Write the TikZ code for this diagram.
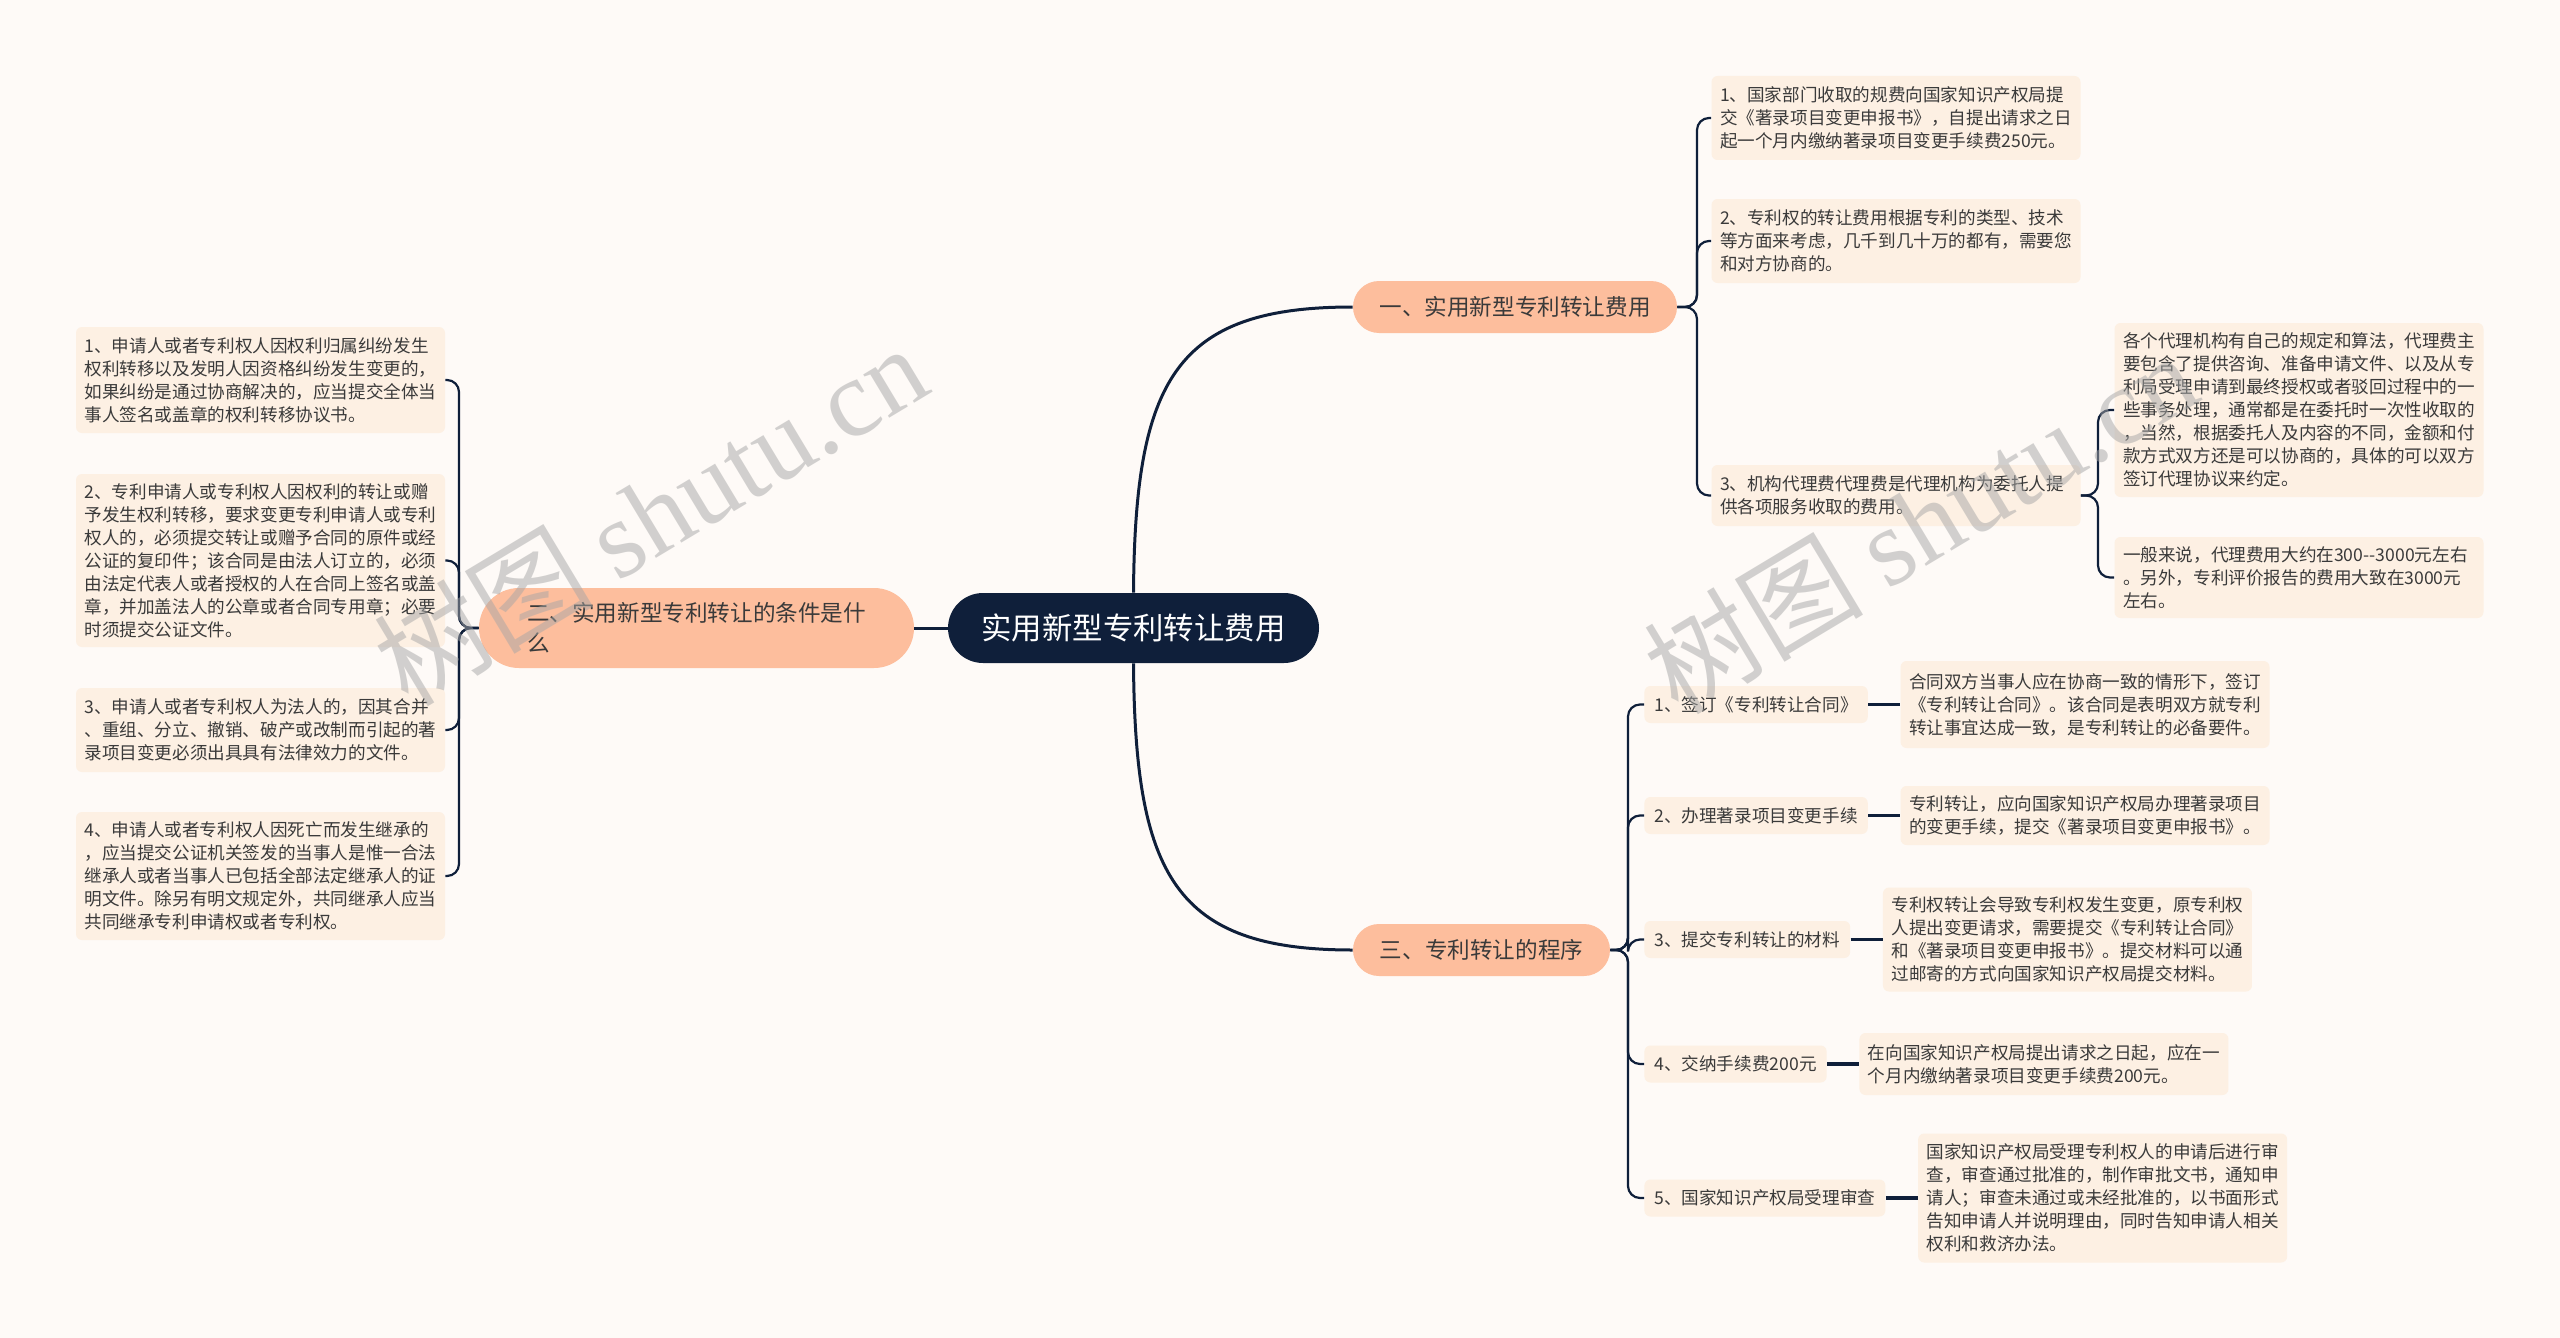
\documentclass[tikz,border=0pt]{standalone}
\usepackage{fontspec}
\usepackage{xcolor}
\usetikzlibrary{positioning}
\newfontfamily\cjk{Noto Sans CJK SC}
\newfontfamily\wmserif{Liberation Serif}
\definecolor{bgcol}{HTML}{FEFAF7}
\definecolor{leafcol}{HTML}{FDF0E3}
\definecolor{branchcol}{HTML}{FDBE9D}
\definecolor{navy}{HTML}{0F1F3A}
\definecolor{inkcol}{HTML}{3A3A3A}

\begin{document}
\begin{tikzpicture}[x=0.5pt,y=-0.5pt,
  root/.style={fill=navy,text=white,rounded corners=17.5pt,minimum width=185.5pt,minimum height=35pt,font=\cjk\fontsize{15.2}{18}\selectfont},
  branch/.style={fill=branchcol,text=inkcol,rounded corners=13pt,minimum height=26pt,font=\cjk\fontsize{11.3}{15}\selectfont},
  leaf/.style={fill=leafcol,text=inkcol,rounded corners=3pt,align=left,text width=176pt,inner xsep=4.25pt,font=\cjk\fontsize{8.8}{11.5}\selectfont},
  stepbox/.style={fill=leafcol,text=inkcol,rounded corners=3pt,inner xsep=5pt,minimum height=18.5pt,font=\cjk\fontsize{8.8}{11.5}\selectfont},
  trunk/.style={draw=navy,line width=1.5pt},
  twig/.style={draw=navy,line width=1.1pt,rounded corners=6pt},
  stub/.style={draw=navy,line width=1.8pt},
  wmark/.style={text=black!35,opacity=.5,font=\cjk\fontsize{55}{60}\selectfont}]

  \path[use as bounding box,fill=bgcol] (0,0) rectangle (2560,1338);

  % centre and branches
  \node[root] (c) at (1133.5,628) {实用新型专利转让费用};
  \node[branch,minimum width=162pt] (b1) at (1515,307) {一、实用新型专利转让费用};
  \node[branch,text width=169.5pt,align=left,minimum width=217.5pt,minimum height=40pt,rounded corners=20pt] (b2) at (696.5,628) {二、实用新型专利转让的条件是什\\么};
  \node[branch,minimum width=128.5pt] (b3) at (1481.5,950) {三、专利转让的程序};

  % left side
  \node[leaf,minimum height=53pt] (l1) at (260.5,380) {1、申请人或者专利权人因权利归属纠纷发生\\权利转移以及发明人因资格纠纷发生变更的，\\如果纠纷是通过协商解决的，应当提交全体当\\事人签名或盖章的权利转移协议书。};
  \node[leaf,minimum height=86.5pt] (l2) at (260.5,560.5) {2、专利申请人或专利权人因权利的转让或赠\\予发生权利转移，要求变更专利申请人或专利\\权人的，必须提交转让或赠予合同的原件或经\\公证的复印件；该合同是由法人订立的，必须\\由法定代表人或者授权的人在合同上签名或盖\\章，并加盖法人的公章或者合同专用章；必要\\时须提交公证文件。};
  \node[leaf,minimum height=42pt] (l3) at (260.5,730) {3、申请人或者专利权人为法人的，因其合并\\、重组、分立、撤销、破产或改制而引起的著\\录项目变更必须出具具有法律效力的文件。};
  \node[leaf,minimum height=64pt] (l4) at (260.5,876) {4、申请人或者专利权人因死亡而发生继承的\\，应当提交公证机关签发的当事人是惟一合法\\继承人或者当事人已包括全部法定继承人的证\\明文件。除另有明文规定外，共同继承人应当\\共同继承专利申请权或者专利权。};

  % fees
  \node[leaf,minimum height=42pt] (r1) at (1896,118) {1、国家部门收取的规费向国家知识产权局提\\交《著录项目变更申报书》，自提出请求之日\\起一个月内缴纳著录项目变更手续费250元。};
  \node[leaf,minimum height=42pt] (r2) at (1896,241) {2、专利权的转让费用根据专利的类型、技术\\等方面来考虑，几千到几十万的都有，需要您\\和对方协商的。};
  \node[leaf,minimum height=30.5pt] (r3) at (1896,495.5) {3、机构代理费代理费是代理机构为委托人提\\供各项服务收取的费用。};
  \node[leaf,minimum height=87pt] (r3a) at (2299,410) {各个代理机构有自己的规定和算法，代理费主\\要包含了提供咨询、准备申请文件、以及从专\\利局受理申请到最终授权或者驳回过程中的一\\些事务处理，通常都是在委托时一次性收取的\\，当然，根据委托人及内容的不同，金额和付\\款方式双方还是可以协商的，具体的可以双方\\签订代理协议来约定。};
  \node[leaf,minimum height=40.5pt] (r3b) at (2299,577.5) {一般来说，代理费用大约在300--3000元左右\\。另外，专利评价报告的费用大致在3000元\\左右。};

  % procedure
  \node[stepbox,anchor=west] (s1) at (1644,704.5) {1、签订《专利转让合同》};
  \node[leaf,minimum height=43.5pt,right=16pt of s1] (t1) {合同双方当事人应在协商一致的情形下，签订\\《专利转让合同》。该合同是表明双方就专利\\转让事宜达成一致，是专利转让的必备要件。};
  \node[stepbox,anchor=west] (s2) at (1644,815.5) {2、办理著录项目变更手续};
  \node[leaf,minimum height=29.5pt,right=16pt of s2] (t2) {专利转让，应向国家知识产权局办理著录项目\\的变更手续，提交《著录项目变更申报书》。};
  \node[stepbox,anchor=west] (s3) at (1644,939.5) {3、提交专利转让的材料};
  \node[leaf,minimum height=52pt,right=16pt of s3] (t3) {专利权转让会导致专利权发生变更，原专利权\\人提出变更请求，需要提交《专利转让合同》\\和《著录项目变更申报书》。提交材料可以通\\过邮寄的方式向国家知识产权局提交材料。};
  \node[stepbox,anchor=west] (s4) at (1644,1064) {4、交纳手续费200元};
  \node[leaf,minimum height=31pt,right=16pt of s4] (t4) {在向国家知识产权局提出请求之日起，应在一\\个月内缴纳著录项目变更手续费200元。};
  \node[stepbox,anchor=west] (s5) at (1644,1198) {5、国家知识产权局受理审查};
  \node[leaf,minimum height=64.5pt,right=16pt of s5] (t5) {国家知识产权局受理专利权人的申请后进行审\\查，审查通过批准的，制作审批文书，通知申\\请人；审查未通过或未经批准的，以书面形式\\告知申请人并说明理由，同时告知申请人相关\\权利和救济办法。};

  \draw[trunk] (c.north) .. controls (1135,380) and (1175,307) .. (b1.west);
  \draw[trunk] (c.south) .. controls (1135,876) and (1175,950) .. (b3.west);
  \draw[trunk] (c.west) -- (b2.east);

  \draw[twig] (b2.west) -- (459,628) |- (l1.east);
  \draw[twig] (b2.west) -- (459,628) |- (l2.east);
  \draw[twig] (b2.west) -- (459,628) |- (l3.east);
  \draw[twig] (b2.west) -- (459,628) |- (l4.east);

  \draw[twig] (b1.east) -- (1697,307) |- (r1.west);
  \draw[twig] (b1.east) -- (1697,307) |- (r2.west);
  \draw[twig] (b1.east) -- (1697,307) |- (r3.west);
  \draw[twig] (r3.east) -- (2098,495.5) |- (r3a.west);
  \draw[twig] (r3.east) -- (2098,495.5) |- (r3b.west);

  \draw[twig] (b3.east) -- (1628,950) |- (s1.west);
  \draw[twig] (b3.east) -- (1628,950) |- (s2.west);
  \draw[twig] (b3.east) -- (1628,950) |- (s3.west);
  \draw[twig] (b3.east) -- (1628,950) |- (s4.west);
  \draw[twig] (b3.east) -- (1628,950) |- (s5.west);

  \draw[stub] (s1.east) -- (t1.west);
  \draw[stub] (s2.east) -- (t2.west);
  \draw[stub] (s3.east) -- (t3.west);
  \draw[stub] (s4.east) -- (t4.west);
  \draw[stub] (s5.east) -- (t5.west);

  % watermark
  \node[wmark,rotate=31] (wm1) at (650,514) {树图 {\wmserif shutu.cn}};
  \node[wmark,rotate=31] (wm2) at (1920,522) {树图 {\wmserif shutu.cn}};
\end{tikzpicture}
\end{document}
